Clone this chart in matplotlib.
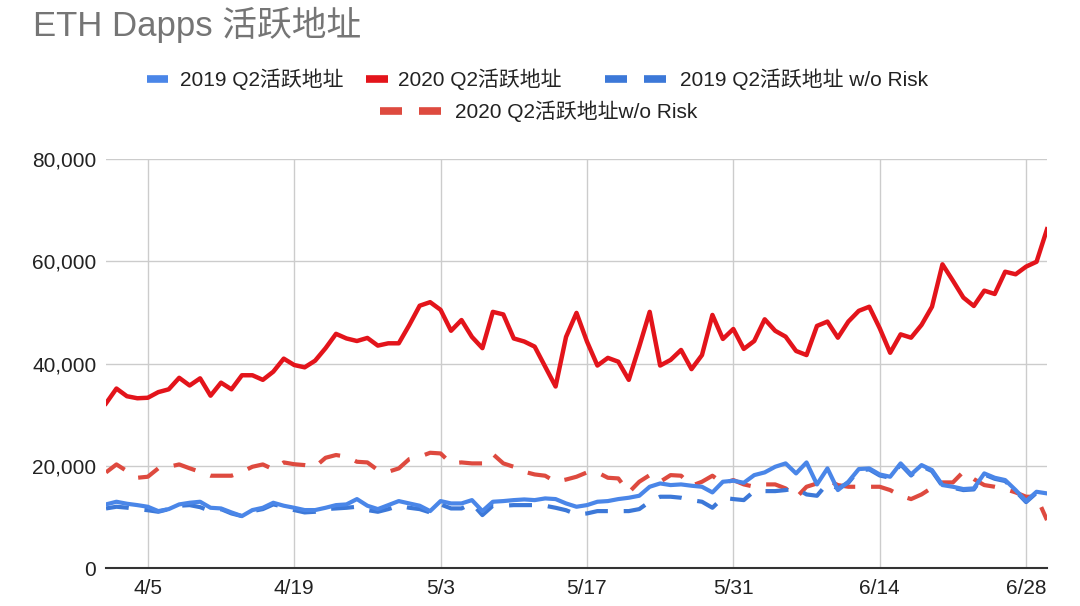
import numpy as np
import pandas as pd
import matplotlib
matplotlib.use('Agg')
import matplotlib.pyplot as plt
import matplotlib.dates as mdates
from matplotlib.lines import Line2D

plt.rcParams['font.family'] = ['Liberation Sans', 'Noto Sans CJK SC', 'DejaVu Sans']

# Q2 days: 4/1 .. 6/30
dates = pd.date_range('2020-04-01', '2020-06-30', freq='D')

# 2020 Q2 active addresses
active_2020 = [32200, 35100, 33600, 33200, 33300, 34400, 34950, 37200, 35700, 37100,
               33700, 36250, 34950, 37700, 37700, 36800, 38400, 40950, 39700, 39250,
               40550, 43000, 45800, 44900, 44400, 45000, 43500, 43950, 43950, 47500,
               51300, 52000, 50500, 46400, 48500, 45200, 43000, 50100, 49600, 44900,
               44300, 43300, 39400, 35500, 45200, 49900, 44300, 39600, 41100, 40350,
               36800, 43300, 50100, 39600, 40700, 42650, 38900, 41650, 49500, 44800,
               46750, 42850, 44400, 48650, 46400, 45250, 42450, 41650, 47350, 48200,
               45050, 48200, 50300, 51100, 46900, 42100, 45700, 45050, 47550, 51100,
               59400, 56200, 52900, 51250, 54250, 53600, 57950, 57450, 58950, 59900,
               66250]

# 2020 Q2 active addresses w/o risk
active_2020_norisk = [18700, 20260, 18950, 17650, 17850, 19500, 19800, 20260, 19500, 18800,
                      18050, 18050, 18050, 18800, 19800, 20260, 19300, 20650, 20300, 20130,
                      19800, 21560, 22100, 21760, 20780, 20650, 19150, 18830, 19480, 21300,
                      21760, 22540, 22410, 20460, 20650, 20460, 20460, 22280, 20460, 19800,
                      18830, 18300, 18050, 16870, 17300, 17850, 18700, 18700, 17650, 17520,
                      14780, 16870, 18170, 16870, 18170, 18050, 16090, 16870, 18050, 16540,
                      17200, 16350, 15890, 16350, 16350, 15570, 13740, 15890, 16540, 17200,
                      16220, 15890, 15890, 15890, 15890, 15240, 14130, 13480, 14390, 15700,
                      16740, 16740, 18830, 17390, 16220, 15890, 15440, 14780, 13940, 13940,
                      9370]

# 2019 Q2 active addresses
active_2019 = [12440, 12960, 12570, 12300, 11980, 11130, 11520, 12440, 12760, 12960,
               11780, 11650, 10870, 10150, 11330, 11780, 12760, 12180, 11780, 11330,
               11330, 11780, 12300, 12440, 13480, 12180, 11520, 12300, 13090, 12630,
               12180, 11130, 13090, 12630, 12630, 13280, 11130, 12960, 13090, 13280,
               13410, 13280, 13610, 13480, 12630, 11980, 12300, 12960, 13090, 13480,
               13740, 14130, 15890, 16540, 16220, 16350, 16090, 15890, 14780, 16870,
               17070, 16670, 18170, 18700, 19800, 20460, 18500, 20650, 16350, 19480,
               15240, 16870, 19350, 19480, 18300, 17850, 20460, 18300, 20130, 19150,
               16220, 15890, 15440, 15570, 18500, 17650, 17200, 15240, 13090, 14910,
               14590]

# 2019 Q2 active addresses w/o risk
active_2019_norisk = [11650, 11980, 11800, 11520, 11300, 11000, 11520, 12180, 12300, 11900,
                      11130, 11520, 10670, 10150, 11130, 11520, 12440, 11980, 11330, 10870,
                      11000, 11520, 11650, 11780, 11980, 11330, 11000, 11520, 12180, 11780,
                      11520, 10870, 12440, 11650, 11650, 12630, 10350, 12180, 12180, 12300,
                      12300, 12300, 12180, 11780, 11300, 10480, 10670, 11130, 11130, 11130,
                      11130, 11520, 12960, 13940, 13940, 13740, 13280, 12960, 11780, 13740,
                      13480, 13280, 15040, 15040, 15040, 15240, 15570, 14390, 14130, 16540,
                      15570, 16670, 19150, 19280, 18100, 17650, 20260, 18100, 19930, 18950,
                      16020, 15690, 15240, 15370, 18300, 17450, 17000, 15040, 12890, 14710,
                      14390]

tick_dates = ['2020-04-05', '2020-04-19', '2020-05-03', '2020-05-17',
              '2020-05-31', '2020-06-14', '2020-06-28']
tick_labels = ['4/5', '4/19', '5/3', '5/17', '5/31', '6/14', '6/28']

blue = '#4a86e8'
blue_d = '#3c78d8'
red = '#e3141b'
red_d = '#de4a3f'

W, H = 1080, 606
fig = plt.figure(figsize=(W / 100, H / 100), dpi=100)
ax = fig.add_axes([106 / W, 1 - 568 / H, (1047 - 106) / W, (568 - 159) / H])

dash = (0, (5.5, 3.8))
ax.plot(dates, active_2020_norisk, color=red_d, lw=3, linestyle=dash, zorder=3)
ax.plot(dates, active_2019_norisk, color=blue_d, lw=3, linestyle=dash, zorder=3)
ax.plot(dates, active_2019, color=blue, lw=3, zorder=4)
ax.plot(dates, active_2020, color=red, lw=3.2, zorder=5)

ax.set_xlim(dates[0], dates[-1])
ax.set_ylim(0, 80000)
ax.set_yticks([0, 20000, 40000, 60000, 80000])
ax.yaxis.set_major_formatter(matplotlib.ticker.FuncFormatter(lambda v, p: '{:,.0f}'.format(v)))
ax.set_xticks(pd.to_datetime(tick_dates))
ax.set_xticklabels(tick_labels)

ax.grid(True, color='#cccccc', lw=1)
ax.set_axisbelow(True)
for s in ['top', 'right', 'left']:
    ax.spines[s].set_visible(False)
ax.spines['bottom'].set_color('#333333')
ax.spines['bottom'].set_linewidth(1.5)
ax.spines['bottom'].set_zorder(6)
ax.tick_params(axis='both', length=0, labelsize=15, labelcolor='#222222')
ax.tick_params(axis='x', pad=8)
ax.tick_params(axis='y', pad=7)

# title
fig.text(33 / W, 1 - 25 / H, 'ETH Dapps 活跃地址', fontsize=25, color='#757575',
         ha='left', va='center')

# legend drawn by hand (google sheets style, two rows)
def handle(x0, x1, y, color, dashed=False):
    if dashed:
        segs = [(x0, x0 + 22), (x0 + 39, x0 + 61)]
    else:
        segs = [(x0, x1)]
    for a, b in segs:
        fig.add_artist(Line2D([a / W, b / W], [1 - y / H, 1 - y / H],
                              transform=fig.transFigure, color=color, lw=5.5,
                              solid_capstyle='butt'))

def label(x, y, txt):
    fig.text(x / W, 1 - y / H, txt, fontsize=15, color='#222222', ha='left', va='center')

handle(147, 168, 79, blue)
label(180, 79, '2019 Q2活跃地址')
handle(366, 388, 79, red)
label(398, 79, '2020 Q2活跃地址')
handle(605, 0, 79, blue_d, dashed=True)
label(680, 79, '2019 Q2活跃地址 w/o Risk')
handle(380, 0, 111, red_d, dashed=True)
label(455, 111, '2020 Q2活跃地址w/o Risk')

plt.savefig('out.png', dpi=100)
